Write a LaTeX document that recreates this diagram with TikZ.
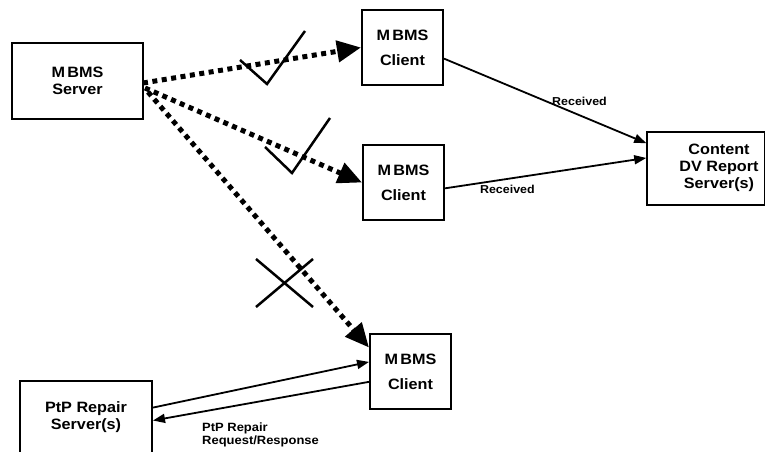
\documentclass[tikz,border=0pt]{standalone}
\usepackage{fontspec}
\setmainfont{Liberation Sans}[FakeStretch=1.08]
\usetikzlibrary{arrows.meta}
\tikzset{>={Triangle[length=12bp,width=9bp]},
  box/.style={draw, line width=2bp, align=center, inner sep=0pt,
    font=\bfseries\fontsize{15bp}{17bp}\selectfont},
  srvbox/.style={box, minimum width=131bp, minimum height=76bp},
  clibox/.style={box, minimum width=81bp, minimum height=75bp,
    font=\bfseries\fontsize{15bp}{25bp}\selectfont},
  lbl/.style={font=\bfseries\fontsize{11.5bp}{14bp}\selectfont, inner sep=1bp},
  mcast/.style={line width=5bp, dash pattern=on 5bp off 4.5bp,
    -{Triangle[length=24bp,width=21bp]}},
  msg/.style={line width=1.8bp, ->},
  tick/.style={line width=2.5bp}}

\begin{document}
\begin{tikzpicture}[x=1bp,y=-1bp]
\useasboundingbox (0,0) rectangle (765,452);
% boxes
\node[srvbox] (srv) at (77.5,81) {M\,BMS\\Server};
\node[clibox] (cli1) at (402.5,47.5) {M\,BMS\\Client};
\node[clibox] (cli2) at (403.5,182.5) {M\,BMS\\Client};
\node[clibox] (cli3) at (410.5,371.5) {M\,BMS\\Client};
\node[box, line width=1.5bp, minimum width=118bp, minimum height=73bp] (dv) at (706,168.5) {};
\node[align=center, inner sep=0pt, font=\bfseries\fontsize{15bp}{17bp}\selectfont] (dvtxt) at (719,168) {Content\\DV Report\\Server(s)};
\node[srvbox, minimum width=132bp, minimum height=72bp] (rep) at (86,417) {PtP Repair\\Server(s)};
% multicast
\coordinate (s1) at (143,83);
\coordinate (s2) at (145,88);
\coordinate (s3) at (148,92);
\draw[mcast] (s1) -- (cli1.west);
\draw[mcast] (s2) -- (cli2.west);
\draw[mcast] (s3) -- (cli3.150);
% ok / lost
\draw[tick] (240,60) -- (267,84) -- (305,31);
\draw[tick] (265,147) -- (292,173) -- (330,118);
\draw[tick] (256,259) -- (313,307);
\draw[tick] (256,307) -- (313,259);
% reports
\draw[msg] (cli1.345) -- node[lbl, pos=0.67, above=8bp] (rcv1) {Received} (dv.157);
\draw[msg] (cli2.352) -- node[lbl, pos=0.31, below=4bp] (rcv2) {Received} (dv.170);
% repair
\draw[msg] (rep.8) -- (cli3.167);
\draw[msg] (cli3.194) -- (rep.357);
\node[lbl, anchor=west, align=left, font=\bfseries\fontsize{12bp}{12.5bp}\selectfont] (replbl) at (201,435) {PtP Repair\\Request/Response};
\end{tikzpicture}
\end{document}
